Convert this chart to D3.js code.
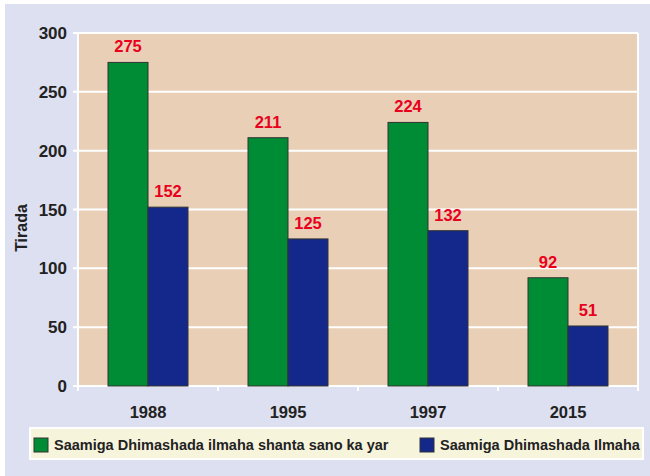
<!DOCTYPE html>
<html>
<head>
<meta charset="utf-8">
<script src="https://cdn.jsdelivr.net/npm/d3@7"></script>
<style>
	body { margin: 0; background: #fff; }
	svg { display: block; font-family: "Liberation Sans", Arial, sans-serif; }
</style>
</head>
<body>
<svg id="chart" width="650" height="476"></svg>
<script>
// data
var years = ["1988", "1995", "1997", "2015"];
var under5 = [275, 211, 224, 92];
var infant = [152, 125, 132, 51];
var seriesNames = ["Saamiga Dhimashada ilmaha shanta sano ka yar", "Saamiga Dhimashada Ilmaha"];
var yTicks = [0, 50, 100, 150, 200, 250, 300];

var colors = ["#008c35", "#13288a"];

var svg = d3.select("#chart");

// lavender backdrop
svg.append("rect")
	.attr("x", 5).attr("y", 4)
	.attr("width", 645).attr("height", 472)
	.attr("fill", "#dde0f1");

var plotLeft = 78, plotRight = 638, plotTop = 33, plotBottom = 386;

var x = d3.scaleBand().domain(years).range([plotLeft, plotRight]);
var y = d3.scaleLinear().domain([0, 300]).range([plotBottom, plotTop]);

// plot area
svg.append("rect")
	.attr("x", plotLeft).attr("y", plotTop)
	.attr("width", plotRight - plotLeft).attr("height", plotBottom - plotTop)
	.attr("fill", "#e8cfb6");

// grid lines
svg.append("g").selectAll("line")
	.data(yTicks)
	.enter()
	.append("line")
	.attr("x1", plotLeft - 5).attr("x2", plotRight)
	.attr("y1", function (d) { return y(d); })
	.attr("y2", function (d) { return y(d); })
	.attr("stroke", "#fff")
	.attr("stroke-width", 2);

// right border + left axis line
svg.append("line").attr("x1", plotRight).attr("x2", plotRight).attr("y1", plotTop).attr("y2", plotBottom + 5)
	.attr("stroke", "#fff").attr("stroke-width", 2);
svg.append("line").attr("x1", plotLeft).attr("x2", plotLeft).attr("y1", plotTop).attr("y2", plotBottom + 5)
	.attr("stroke", "#fff").attr("stroke-width", 2);

// x tick marks at band edges
svg.append("g").selectAll("line")
	.data(years)
	.enter()
	.append("line")
	.attr("x1", function (d) { return x(d) + x.bandwidth(); })
	.attr("x2", function (d) { return x(d) + x.bandwidth(); })
	.attr("y1", plotBottom).attr("y2", plotBottom + 5)
	.attr("stroke", "#fff").attr("stroke-width", 2);

// y tick labels
svg.append("g").selectAll("text")
	.data(yTicks)
	.enter()
	.append("text")
	.attr("x", 67)
	.attr("y", function (d) { return y(d); })
	.attr("dy", "0.36em")
	.attr("text-anchor", "end")
	.attr("font-size", 17).attr("font-weight", "bold")
	.attr("fill", "#222")
	.text(function (d) { return d; });

// x labels
svg.append("g").selectAll("text")
	.data(years)
	.enter()
	.append("text")
	.attr("x", function (d) { return x(d) + x.bandwidth() / 2; })
	.attr("y", 418)
	.attr("text-anchor", "middle")
	.attr("font-size", 16.5).attr("font-weight", "bold")
	.attr("fill", "#222")
	.text(function (d) { return d; });

// y title
svg.append("text")
	.attr("transform", "translate(27,228) rotate(-90)")
	.attr("text-anchor", "middle")
	.attr("font-size", 16).attr("font-weight", "bold")
	.attr("fill", "#222")
	.text("Tirada");

// bars
var barW = 40;
var sub = d3.scaleBand().domain([0, 1]).range([30, 30 + barW * 2]);
var series = [under5, infant];

series.forEach(function (vals, s) {
	var g = svg.append("g");
	g.selectAll("rect")
		.data(vals)
		.enter()
		.append("rect")
		.attr("x", function (d, i) { return x(years[i]) + sub(s); })
		.attr("y", function (d) { return y(d); })
		.attr("width", sub.bandwidth())
		.attr("height", function (d) { return plotBottom - y(d); })
		.attr("fill", colors[s])
		.attr("stroke", "#333")
		.attr("stroke-width", 1);
	g.selectAll("text")
		.data(vals)
		.enter()
		.append("text")
		.attr("x", function (d, i) { return x(years[i]) + sub(s) + sub.bandwidth() / 2; })
		.attr("y", function (d) { return y(d) - 10; })
		.attr("text-anchor", "middle")
		.attr("font-size", 16.5).attr("font-weight", "bold")
		.attr("fill", "#e8001c")
		.text(function (d) { return d; });
});

// legend
svg.append("rect")
	.attr("x", 30).attr("y", 428)
	.attr("width", 613).attr("height", 31)
	.attr("fill", "#f7f4dc")
	.attr("stroke", "#fff").attr("stroke-width", 2);

var legendX = [34, 420];
seriesNames.forEach(function (name, s) {
	svg.append("rect")
		.attr("x", legendX[s]).attr("y", 438)
		.attr("width", 14).attr("height", 14)
		.attr("fill", colors[s])
		.attr("stroke", "#333").attr("stroke-width", 1);
	svg.append("text")
		.attr("x", legendX[s] + 20).attr("y", 450)
		.attr("font-size", 14.5).attr("font-weight", "bold")
		.attr("fill", "#222")
		.text(name);
});
</script>
</body>
</html>
